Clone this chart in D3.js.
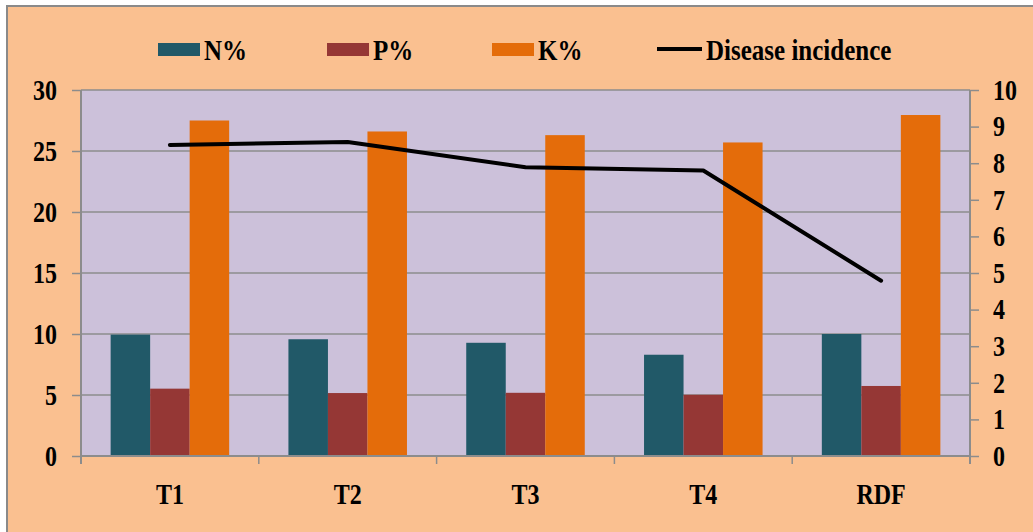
<!DOCTYPE html>
<html>
<head>
<meta charset="utf-8">
<script src="https://cdn.jsdelivr.net/npm/d3@7"></script>
<style>
  html, body { margin: 0; padding: 0; background: #ffffff; }
  svg { display: block; }
  svg text { font-family: "Times New Roman", "Liberation Serif", Tinos, "DejaVu Serif", serif !important; font-weight: bold; fill: #000; }
</style>
</head>
<body>
<svg id="chart" width="1033" height="532"></svg>
<script>
// Treatments along the x axis
const categories = ["T1", "T2", "T3", "T4", "RDF"];

// Nutrient content (%) per treatment, left axis
const nPct = [9.95, 9.57, 9.28, 8.30, 10.0];
const pPct = [5.52, 5.16, 5.18, 5.02, 5.74];
const kPct = [27.5, 26.6, 26.3, 25.7, 27.95];

// Disease incidence per treatment, right axis
const disease = [8.50, 8.58, 7.89, 7.80, 4.79];

// Axis ticks
const leftTicks = [0, 5, 10, 15, 20, 25, 30];
const rightTicks = [0, 1, 2, 3, 4, 5, 6, 7, 8, 9, 10];

const seriesNames = ["N%", "P%", "K%"];
const seriesColors = ["#215968", "#953735", "#E46C0A"];
const barSeries = [nPct, pPct, kPct];

// Glyphs are drawn slightly taller than wide
const textStretch = 1.2;
function stretchText(sel) {
  sel.each(function () {
    const t = d3.select(this);
    const x = +t.attr("x") || 0;
    const y = +t.attr("y") || 0;
    t.attr("transform", `translate(${x},${y}) scale(1,${textStretch}) translate(${-x},${-y})`);
  });
}

const svg = d3.select("#chart");
const plot = { left: 81, right: 970, top: 90, bottom: 456 };

// Chart area background with its frame
svg.append("rect")
  .attr("x", 7).attr("y", 6).attr("width", 1040).attr("height", 540)
  .attr("fill", "#FAC090").attr("stroke", "#8a8a8a").attr("stroke-width", 2);

// Plot area
svg.append("rect")
  .attr("x", plot.left).attr("y", plot.top)
  .attr("width", plot.right - plot.left).attr("height", plot.bottom - plot.top)
  .attr("fill", "#CCC1DA");

const yLeft = d3.scaleLinear().domain([0, 30]).range([plot.bottom, plot.top]);
const yRight = d3.scaleLinear().domain([0, 10]).range([plot.bottom, plot.top]);
const x0 = d3.scaleBand().domain(categories).range([plot.left, plot.right]).padding(0);
const step = x0.bandwidth();
const x1 = d3.scaleBand().domain(seriesNames).range([step / 6, step * 5 / 6]).padding(0);

// Horizontal gridlines
svg.append("g").selectAll("line")
  .data(leftTicks.filter(t => t > 0))
  .join("line")
  .attr("x1", plot.left).attr("x2", plot.right)
  .attr("y1", d => yLeft(d)).attr("y2", d => yLeft(d))
  .attr("stroke", "#8c8c8c").attr("stroke-width", 1.5);

// Bars
const groups = svg.append("g").selectAll("g")
  .data(categories)
  .join("g")
  .attr("transform", d => `translate(${x0(d)},0)`);

groups.selectAll("rect")
  .data((c, i) => seriesNames.map((s, k) => ({ s, v: barSeries[k][i], color: seriesColors[k] })))
  .join("rect")
  .attr("x", d => x1(d.s))
  .attr("width", x1.bandwidth())
  .attr("y", d => yLeft(d.v))
  .attr("height", d => plot.bottom - yLeft(d.v))
  .attr("fill", d => d.color);

// Disease incidence line
const line = d3.line()
  .x((d, i) => x0(categories[i]) + step / 2)
  .y(d => yRight(d));
svg.append("path")
  .datum(disease)
  .attr("d", line)
  .attr("fill", "none")
  .attr("stroke", "#000")
  .attr("stroke-width", 4)
  .attr("stroke-linecap", "round")
  .attr("stroke-linejoin", "round");

// Axes
const axisColor = "#8c8c8c";
const leftAxis = svg.append("g")
  .attr("transform", `translate(${plot.left},0)`)
  .call(d3.axisLeft(yLeft).tickValues(leftTicks).tickSize(9).tickPadding(15));
const rightAxis = svg.append("g")
  .attr("transform", `translate(${plot.right},0)`)
  .call(d3.axisRight(yRight).tickValues(rightTicks).tickSize(9).tickPadding(14));
const bottomAxis = svg.append("g")
  .attr("transform", `translate(0,${plot.bottom})`)
  .call(d3.axisBottom(x0).tickSize(0).tickPadding(28));

// Category boundary ticks on the x axis
svg.append("g").selectAll("line")
  .data(categories.map(c => x0(c)).concat([plot.right]))
  .join("line")
  .attr("x1", d => d).attr("x2", d => d)
  .attr("y1", plot.bottom).attr("y2", plot.bottom + 8)
  .attr("stroke", axisColor).attr("stroke-width", 1.5);

[leftAxis, rightAxis, bottomAxis].forEach(a => {
  a.attr("font-family", null).attr("font-size", null);
  a.select(".domain").attr("stroke", axisColor).attr("stroke-width", 2);
  a.selectAll(".tick line").attr("stroke", axisColor).attr("stroke-width", 1.5);
  a.selectAll(".tick text")
    .style("font-size", "24px")
    .attr("fill", "#000")
    .call(stretchText);
});
bottomAxis.select(".domain").attr("d", `M${plot.left},0H${plot.right}`);
leftAxis.select(".domain").attr("d", `M0,${plot.bottom + 8}V${plot.top}`);
rightAxis.select(".domain").attr("d", `M0,${plot.bottom + 8}V${plot.top}`);

// Legend
const legendItems = [
  { name: "N%", color: seriesColors[0], type: "bar", x: 158 },
  { name: "P%", color: seriesColors[1], type: "bar", x: 327 },
  { name: "K%", color: seriesColors[2], type: "bar", x: 492 },
  { name: "Disease incidence", color: "#000", type: "line", x: 657 }
];
const legend = svg.append("g");
legendItems.forEach(item => {
  if (item.type === "bar") {
    legend.append("rect")
      .attr("x", item.x).attr("y", 43).attr("width", 42).attr("height", 13)
      .attr("fill", item.color);
  } else {
    legend.append("line")
      .attr("x1", item.x).attr("x2", item.x + 45)
      .attr("y1", 49).attr("y2", 49)
      .attr("stroke", item.color).attr("stroke-width", 4);
  }
  legend.append("text")
    .attr("x", item.x + (item.type === "bar" ? 46 : 49))
    .attr("y", 60)
    .style("font-size", "25px")
    .text(item.name)
    .call(stretchText);
});
</script>
</body>
</html>
